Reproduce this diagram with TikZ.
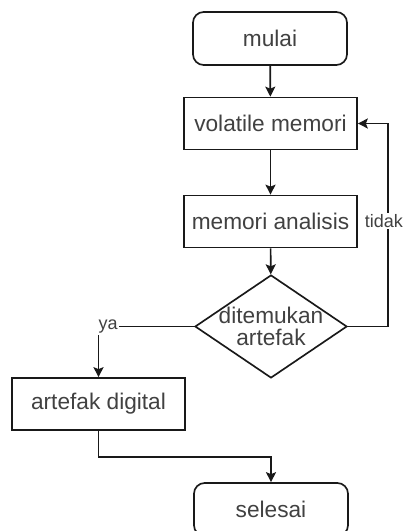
\documentclass[tikz,border=0pt]{standalone}
\usepackage{fontspec}
\setmainfont{Liberation Sans}
\usetikzlibrary{shapes.geometric,arrows.meta}
\definecolor{txt}{RGB}{65,65,65}
\definecolor{ln}{RGB}{25,25,25}
\begin{document}
\begin{tikzpicture}[x=0.75pt,y=-0.75pt,
  base/.style={draw=ln, line width=1.25pt, inner sep=0pt, text=txt, font=\fontsize{17}{19}\selectfont, align=center},
  procbox/.style={base, rectangle, minimum width=129.75pt, minimum height=39pt},
  termbox/.style={base, rectangle, rounded corners=8pt, minimum width=115.5pt, minimum height=39.75pt},
  decbox/.style={base, diamond, shape aspect=1.5, inner xsep=-6pt, minimum width=114pt, minimum height=77.25pt, font=\fontsize{17}{16}\selectfont},
  arr/.style={draw=ln, line width=1.25pt, -{Stealth[length=7.5pt,width=7.5pt,inset=1.5pt]}},
  lbl/.style={fill=white, text=txt, inner sep=1pt, font=\fontsize{13.5}{15}\selectfont}]
\useasboundingbox (0,0) rectangle (405,531);
\node[termbox] (mulai) at (270,38.5) {mulai};
\node[procbox] (vol) at (270.5,123.5) {volatile memori};
\node[procbox] (ana) at (270.5,221.5) {memori analisis};
\node[decbox] (dec) at (271,326.5) {ditemukan\\artefak};
\node[procbox] (art) at (98.5,404) {artefak digital};
\node[termbox] (sel) at (271,509.5) {selesai};
\draw[arr] (mulai) -- (vol);
\draw[arr] (vol) -- (ana);
\draw[arr] (ana) -- (dec);
\draw[arr] (dec.east) -- ++(40,0) |- (vol.east) node[pos=0.26, lbl, xshift=-3pt] {tidak};
\draw[arr] (dec.west) -| (art.north) node[pos=0.45, lbl] {ya};
\draw[arr] (art.south) -- ++(0,26) -| (sel.north);
\end{tikzpicture}
\end{document}
